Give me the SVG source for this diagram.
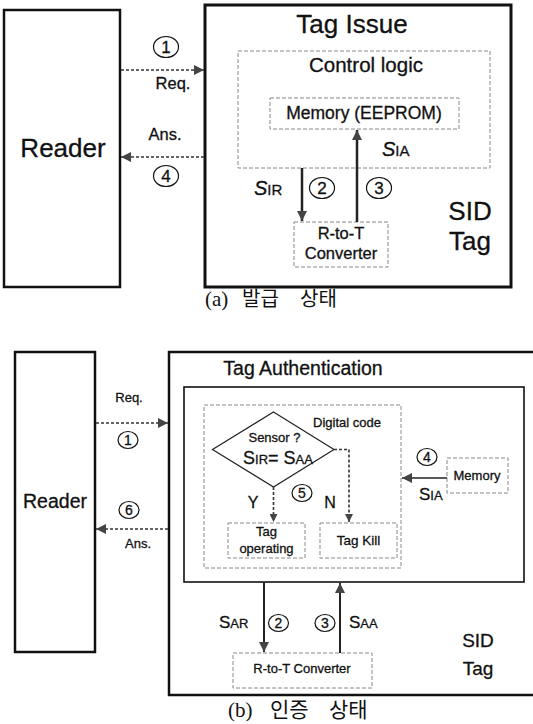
<svg xmlns="http://www.w3.org/2000/svg" width="533" height="724" viewBox="0 0 533 724">
<style>
.t{font-family:"Liberation Sans",Arial,sans-serif;fill:#111;stroke:#111;stroke-width:0.3}
.box{fill:none;stroke:#111}
.dbox{fill:none;stroke:#888;stroke-width:1;stroke-dasharray:4 2}
.dl{fill:none;stroke:#333;stroke-width:1.6;stroke-dasharray:3 2}
.sl{fill:none;stroke:#222}
.c{fill:none;stroke:#111;stroke-width:1.2}
.cap{font-family:"Liberation Serif","Noto Sans CJK KR",serif;fill:#111}
.kr{font-family:"Noto Sans CJK KR",sans-serif;fill:#111}
</style>
<defs>
<marker id="ah" viewBox="0 0 10 10" refX="10" refY="5" markerWidth="14" markerHeight="10" markerUnits="userSpaceOnUse" orient="auto"><path d="M0,0 L10,5 L0,10 z" fill="#444"/></marker>
<marker id="ahs" viewBox="0 0 10 10" refX="10" refY="5" markerWidth="10" markerHeight="8" markerUnits="userSpaceOnUse" orient="auto"><path d="M0,0 L10,5 L0,10 z" fill="#444"/></marker>
</defs>

<!-- ===== (a) Tag Issue ===== -->
<g id="a-reader">
<rect class="box" x="4" y="10" width="116" height="277" stroke-width="2.5"/>
<text class="t" x="63" y="157" font-size="26" text-anchor="middle">Reader</text>
</g>
<g id="a-tag">
<rect class="box" x="205" y="5" width="306" height="282" stroke-width="3"/>
<text class="t" x="352" y="33" font-size="26" text-anchor="middle">Tag Issue</text>
<text class="t" x="470" y="220" font-size="26" text-anchor="middle">SID</text>
<text class="t" x="470" y="250" font-size="26" text-anchor="middle">Tag</text>
</g>
<g id="a-control">
<rect class="dbox" x="238" y="51" width="252" height="117"/>
<text class="t" x="366" y="72" font-size="20.5" text-anchor="middle">Control logic</text>
</g>
<g id="a-memory">
<rect class="dbox" x="270" y="98" width="189" height="31"/>
<text class="t" x="364" y="119" font-size="17.5" text-anchor="middle">Memory (EEPROM)</text>
</g>
<g id="a-rtot">
<rect class="dbox" x="294" y="222" width="94" height="45"/>
<text class="t" x="341" y="239" font-size="16.5" text-anchor="middle">R-to-T</text>
<text class="t" x="341" y="259" font-size="16.5" text-anchor="middle">Converter</text>
</g>
<g id="a-connectors">
<line class="dl" x1="121" y1="70" x2="204" y2="70" marker-end="url(#ah)"/>
<line class="dl" x1="204" y1="157" x2="121" y2="157" marker-end="url(#ah)"/>
<line class="sl" x1="302" y1="168" x2="302" y2="221" stroke-width="2.5" marker-end="url(#ah)"/>
<line class="sl" x1="357" y1="222" x2="357" y2="130" stroke-width="2.5" marker-end="url(#ah)"/>
</g>
<g id="a-labels">
<ellipse class="c" cx="166" cy="47" rx="12.5" ry="10.5"/>
<text class="t" x="166" y="53" font-size="17" text-anchor="middle">1</text>
<text class="t" x="173" y="89" font-size="16.5" text-anchor="middle">Req.</text>
<text class="t" x="165" y="140" font-size="16.5" text-anchor="middle">Ans.</text>
<ellipse class="c" cx="166" cy="176" rx="12.5" ry="10.5"/>
<text class="t" x="166" y="182" font-size="17" text-anchor="middle">4</text>
<ellipse class="c" cx="322" cy="188" rx="12.5" ry="10.5"/>
<text class="t" x="322" y="194" font-size="17" text-anchor="middle">2</text>
<ellipse class="c" cx="379" cy="188" rx="12.5" ry="10.5"/>
<text class="t" x="379" y="194" font-size="17" text-anchor="middle">3</text>
<text class="t" x="254" y="195" font-size="20" font-style="italic">S<tspan font-size="15" font-style="normal">IR</tspan></text>
<text class="t" x="382" y="156" font-size="20" font-style="italic">S<tspan font-size="15" font-style="normal">IA</tspan></text>
</g>
<g id="a-caption">
<text class="cap" x="205" y="306" font-size="21">(a)</text>
<text class="kr" x="242" y="306" font-size="20">발급</text>
<text class="kr" x="300" y="306" font-size="20">상태</text>
</g>

<!-- ===== (b) Tag Authentication ===== -->
<g id="b-reader">
<rect class="box" x="15" y="352" width="80" height="300" stroke-width="2.5"/>
<text class="t" x="55" y="508" font-size="19.5" text-anchor="middle">Reader</text>
</g>
<g id="b-tag">
<rect class="box" x="169" y="352" width="380" height="343" stroke-width="2.5"/>
<text class="t" x="303" y="375" font-size="19.5" text-anchor="middle">Tag Authentication</text>
<text class="t" x="478" y="647" font-size="19" text-anchor="middle">SID</text>
<text class="t" x="478" y="675" font-size="19" text-anchor="middle">Tag</text>
</g>
<g id="b-inner">
<rect class="box" x="184" y="387" width="340" height="195" stroke-width="1.6"/>
</g>
<g id="b-digital">
<rect class="dbox" x="204" y="405" width="197" height="163"/>
<text class="t" x="347" y="427" font-size="13" text-anchor="middle">Digital code</text>
</g>
<g id="b-decision">
<polygon points="273.5,412 334,449.5 273.5,487 212.5,449.5" fill="none" stroke="#222" stroke-width="1.2"/>
<text class="t" x="274.5" y="442" font-size="13" text-anchor="middle">Sensor ?</text>
<text class="t" x="243" y="464" font-size="18">S<tspan font-size="13">IR</tspan>= S<tspan font-size="13">AA</tspan></text>
</g>
<g id="b-tagop">
<rect class="dbox" x="228" y="523" width="77" height="35"/>
<text class="t" x="266.5" y="536" font-size="13" text-anchor="middle">Tag</text>
<text class="t" x="266.5" y="553" font-size="13" text-anchor="middle">operating</text>
</g>
<g id="b-tagkill">
<rect class="dbox" x="320" y="523" width="77" height="35"/>
<text class="t" x="358.5" y="545" font-size="13.5" text-anchor="middle">Tag Kill</text>
</g>
<g id="b-memory">
<rect class="dbox" x="447" y="458" width="61" height="35"/>
<text class="t" x="477" y="480" font-size="13" text-anchor="middle">Memory</text>
</g>
<g id="b-rtot">
<rect class="dbox" x="233" y="653" width="139" height="35"/>
<text class="t" x="302" y="673" font-size="13" text-anchor="middle">R-to-T Converter</text>
</g>
<g id="b-connectors">
<line class="dl" x1="96" y1="423" x2="168" y2="423" marker-end="url(#ah)"/>
<line class="dl" x1="168" y1="529" x2="96" y2="529" marker-end="url(#ah)"/>
<line class="dl" x1="273.5" y1="487" x2="273.5" y2="522" stroke-width="1.2" marker-end="url(#ahs)"/>
<polyline class="dl" points="334,449.5 349,449.5 349,522" stroke-width="1.2" marker-end="url(#ahs)"/>
<line class="sl" x1="447" y1="478" x2="402" y2="478" stroke-width="1.6" marker-end="url(#ah)"/>
<line class="sl" x1="264" y1="582" x2="264" y2="652" stroke-width="2" marker-end="url(#ah)"/>
<line class="sl" x1="340" y1="653" x2="340" y2="583" stroke-width="2" marker-end="url(#ah)"/>
</g>
<g id="b-labels">
<text class="t" x="129" y="402" font-size="13" text-anchor="middle">Req.</text>
<ellipse class="c" cx="128" cy="440" rx="10" ry="8.5"/>
<text class="t" x="128" y="445" font-size="14" text-anchor="middle">1</text>
<ellipse class="c" cx="129" cy="510" rx="10" ry="8.5"/>
<text class="t" x="129" y="515" font-size="14" text-anchor="middle">6</text>
<text class="t" x="138" y="548" font-size="13" text-anchor="middle">Ans.</text>
<text class="t" x="253" y="508" font-size="16" text-anchor="middle">Y</text>
<ellipse class="c" cx="302" cy="493" rx="10" ry="8.5"/>
<text class="t" x="302" y="498" font-size="14" text-anchor="middle">5</text>
<text class="t" x="330" y="508" font-size="16" text-anchor="middle">N</text>
<ellipse class="c" cx="427" cy="457" rx="10" ry="8.5"/>
<text class="t" x="427" y="462" font-size="14" text-anchor="middle">4</text>
<text class="t" x="419" y="500" font-size="17">S<tspan font-size="13">IA</tspan></text>
<text class="t" x="219" y="628" font-size="17">S<tspan font-size="13">AR</tspan></text>
<ellipse class="c" cx="278.5" cy="623" rx="10" ry="8.5"/>
<text class="t" x="278.5" y="628" font-size="14" text-anchor="middle">2</text>
<ellipse class="c" cx="325" cy="623" rx="10" ry="8.5"/>
<text class="t" x="325" y="628" font-size="14" text-anchor="middle">3</text>
<text class="t" x="349" y="628" font-size="17">S<tspan font-size="13">AA</tspan></text>
</g>
<g id="b-caption">
<text class="cap" x="228" y="717" font-size="21">(b)</text>
<text class="kr" x="270" y="717" font-size="21">인증</text>
<text class="kr" x="329" y="717" font-size="21">상태</text>
</g>
</svg>
